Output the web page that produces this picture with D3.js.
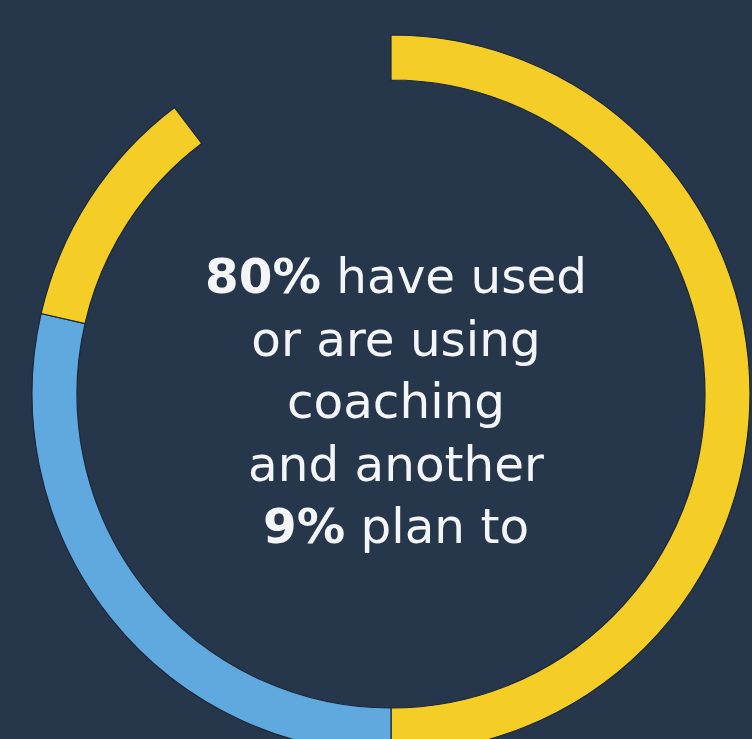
<!DOCTYPE html>
<html lang="en">
<head>
    <meta charset="UTF-8">
    <title>Coaching ring</title>
    <script src="https://d3js.org/d3.v7.min.js"></script>
    <style>
        html, body { margin: 0; padding: 0; background: #26364b; }
        svg { display: block; }
        text { font-family: "DejaVu Sans", "Noto Sans", sans-serif; fill: #f3f5f7; }
    </style>
</head>
<body>
<svg></svg>
<script>
    // ring segments, clockwise from 12 o'clock, in percent of the full turn
    const segmentNames = ["used", "plan", "used2", "gap"];
    const segmentValues = [50, 28.6, 11.1, 10.3];
    const segmentColors = ["#f4cd27", "#5fa9de", "#f4cd27", "none"];

    // centre text: [bold part, regular part]
    const textLines = [
        ["80%", " have used"],
        ["", "or are using"],
        ["", "coaching"],
        ["", "and another"],
        ["9%", " plan to"]
    ];

    const width = 752, height = 739;
    const cx = 391, cy = 394;
    const outerR = 359, innerR = 314;

    const svg = d3.select("svg").attr("width", width).attr("height", height);

    svg.append("rect")
        .attr("width", width).attr("height", height)
        .attr("fill", "#26364b");

    const pie = d3.pie().sort(null).value(d => d.value)
        .startAngle(0).endAngle(2 * Math.PI);

    const arc = d3.arc().innerRadius(innerR).outerRadius(outerR);

    const data = segmentNames.map((n, i) => ({ name: n, value: segmentValues[i], color: segmentColors[i] }));

    const ring = svg.append("g").attr("transform", `translate(${cx},${cy})`);

    ring.selectAll("path")
        .data(pie(data).filter(d => d.data.color !== "none"))
        .enter().append("path")
        .attr("d", arc)
        .attr("fill", d => d.data.color)
        .attr("stroke", "#1b283a")
        .attr("stroke-width", 1.2);

    // centre label
    const label = svg.append("g");
    let fontSize = 42;
    const lineGap = 62.5;
    const firstBaseline = 293;

    const texts = label.selectAll("text")
        .data(textLines)
        .enter().append("text")
        .attr("x", 396)
        .attr("y", (d, i) => firstBaseline + i * lineGap)
        .attr("text-anchor", "middle")
        .attr("font-size", fontSize);

    texts.each(function(d) {
        const t = d3.select(this);
        if (d[0]) t.append("tspan").attr("font-weight", "bold").text(d[0]);
        t.append("tspan").attr("font-weight", "normal").text(d[1]);
    });

    // fit first line width to the reference
    const w = texts.nodes()[0].getComputedTextLength();
    fontSize = fontSize * 382 / w;
    texts.attr("font-size", fontSize);
</script>
</body>
</html>
